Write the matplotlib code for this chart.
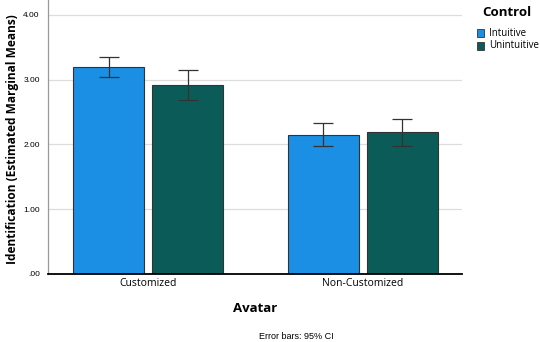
import matplotlib.pyplot as plt
import matplotlib.patches as mpatches
import numpy as np

avatar = ['Customized', 'Non-Customized']
controls = ['Intuitive', 'Unintuitive']
means = {'Intuitive': [3.19, 2.15], 'Unintuitive': [2.92, 2.19]}
ci_low = {'Intuitive': [3.04, 1.97], 'Unintuitive': [2.69, 1.98]}
ci_high = {'Intuitive': [3.35, 2.33], 'Unintuitive': [3.15, 2.40]}
colors = {'Intuitive': '#1a8fe3', 'Unintuitive': '#0b5c58'}
yticks = [0, 1, 2, 3, 4]
ytick_labels = ['.00', '1.00', '2.00', '3.00', '4.00']

plt.rcParams['font.family'] = ['Open Sans', 'DejaVu Sans']

fig = plt.figure(figsize=(5.4, 3.42), dpi=100)
ax = fig.add_axes([0.089, 0.199, 0.767, 0.801])

x = np.arange(len(avatar))
width = 0.331
offsets = {'Intuitive': -0.184, 'Unintuitive': 0.184}
for c in controls:
    m = np.array(means[c])
    lo = m - np.array(ci_low[c])
    hi = np.array(ci_high[c]) - m
    ax.bar(x + offsets[c], m, width, color=colors[c], edgecolor='#333333',
           linewidth=0.8, zorder=2)
    ax.errorbar(x + offsets[c], m, yerr=[lo, hi], fmt='none', ecolor='#333333',
                elinewidth=0.9, capsize=7, capthick=0.9, zorder=3)

ax.set_xlim(-0.466, 1.464)
ax.set_ylim(0, 4.23)
ax.set_yticks(yticks)
ax.set_yticklabels(ytick_labels, fontsize=6, family='Liberation Sans')
ax.set_xticks(x)
ax.set_xticklabels(avatar, fontsize=7.5)
ax.tick_params(axis='both', length=0, pad=3)
ax.tick_params(axis='y', pad=6)
ax.grid(axis='y', color='#dddddd', linewidth=0.9, zorder=0)
ax.set_axisbelow(True)
for s in ['top', 'right']:
    ax.spines[s].set_visible(False)
ax.spines['left'].set_color('#999999')
ax.spines['left'].set_linewidth(0.9)
ax.spines['bottom'].set_color('black')
ax.spines['bottom'].set_linewidth(1.3)

fig.text(0.024, 0.594, 'Identification (Estimated Marginal Means)', fontsize=8.6,
         fontweight='bold', rotation=90, ha='center', va='center')
fig.text(0.472, 0.097, 'Avatar', fontsize=9.5, fontweight='bold',
         ha='center', va='center')
fig.text(0.548, 0.015, 'Error bars: 95% CI', fontsize=6.5,
         family='Liberation Sans', ha='center', va='center')

# legend drawn by hand in figure coordinates
fig.text(507 / 540, 1 - 12 / 342, 'Control', fontsize=9.5, fontweight='bold',
         ha='center', va='center')
for i, c in enumerate(controls):
    yc = 33 + 13 * i
    fig.patches.append(mpatches.Rectangle((477 / 540, 1 - (yc + 4) / 342),
                                          7 / 540, 8 / 342, facecolor=colors[c],
                                          edgecolor='#333333', linewidth=0.6,
                                          transform=fig.transFigure, figure=fig))
    fig.text(489 / 540, 1 - yc / 342, c, fontsize=7, ha='left', va='center')

fig.savefig('out.png', dpi=100)
